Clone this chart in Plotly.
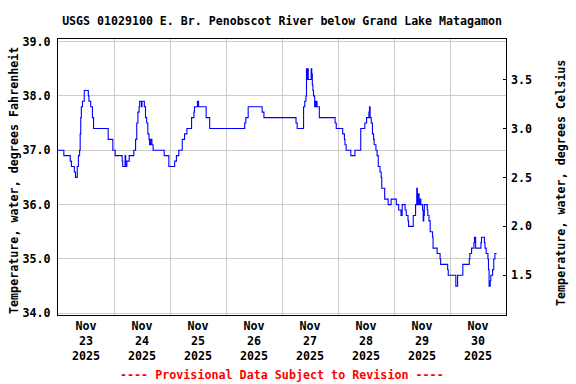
import plotly.graph_objects as go

# Step-series breakpoints (time, temperature in deg F)
times = [
    "2025-11-23 00:00", "2025-11-23 02:30", "2025-11-23 05:15", "2025-11-23 05:45",
    "2025-11-23 07:00", "2025-11-23 07:30", "2025-11-23 08:15", "2025-11-23 08:45",
    "2025-11-23 09:15", "2025-11-23 09:30", "2025-11-23 09:45", "2025-11-23 10:00",
    "2025-11-23 10:30", "2025-11-23 11:15", "2025-11-23 13:00", "2025-11-23 13:15",
    "2025-11-23 14:00", "2025-11-23 14:45", "2025-11-23 15:15", "2025-11-23 21:30",
    "2025-11-23 23:30",
    "2025-11-24 00:30", "2025-11-24 03:30", "2025-11-24 03:45", "2025-11-24 04:45",
    "2025-11-24 05:00", "2025-11-24 05:30", "2025-11-24 06:30", "2025-11-24 08:30",
    "2025-11-24 09:15", "2025-11-24 09:45", "2025-11-24 10:15", "2025-11-24 10:45",
    "2025-11-24 11:00", "2025-11-24 11:45", "2025-11-24 12:00", "2025-11-24 13:00",
    "2025-11-24 13:30", "2025-11-24 14:00", "2025-11-24 14:30", "2025-11-24 15:00",
    "2025-11-24 15:15", "2025-11-24 15:45", "2025-11-24 16:15", "2025-11-24 16:45",
    "2025-11-24 21:30", "2025-11-24 23:30",
    "2025-11-25 02:00", "2025-11-25 02:45", "2025-11-25 03:45", "2025-11-25 05:15",
    "2025-11-25 06:15", "2025-11-25 07:15", "2025-11-25 09:15", "2025-11-25 10:15",
    "2025-11-25 10:30", "2025-11-25 11:45", "2025-11-25 12:15", "2025-11-25 15:30",
    "2025-11-25 17:00",
    "2025-11-26 08:00", "2025-11-26 08:30", "2025-11-26 09:30", "2025-11-26 15:30",
    "2025-11-26 16:15",
    "2025-11-27 06:00", "2025-11-27 06:30", "2025-11-27 09:15", "2025-11-27 09:45",
    "2025-11-27 10:15", "2025-11-27 10:30", "2025-11-27 10:45", "2025-11-27 11:00",
    "2025-11-27 11:15", "2025-11-27 12:30", "2025-11-27 12:45", "2025-11-27 13:00",
    "2025-11-27 13:15", "2025-11-27 13:30", "2025-11-27 14:00", "2025-11-27 14:15",
    "2025-11-27 14:30", "2025-11-27 14:45", "2025-11-27 15:00", "2025-11-27 16:00",
    "2025-11-27 22:45", "2025-11-27 23:15",
    "2025-11-28 02:00", "2025-11-28 02:45", "2025-11-28 03:00", "2025-11-28 03:30",
    "2025-11-28 05:30", "2025-11-28 07:15", "2025-11-28 09:45", "2025-11-28 11:30",
    "2025-11-28 12:15", "2025-11-28 13:15", "2025-11-28 13:30", "2025-11-28 13:45",
    "2025-11-28 14:15", "2025-11-28 14:45", "2025-11-28 15:15", "2025-11-28 15:30",
    "2025-11-28 16:15", "2025-11-28 16:45", "2025-11-28 17:15", "2025-11-28 18:00",
    "2025-11-28 18:30", "2025-11-28 18:45", "2025-11-28 20:00", "2025-11-28 21:30",
    "2025-11-28 22:45",
    "2025-11-29 01:00", "2025-11-29 02:00", "2025-11-29 03:00", "2025-11-29 03:30",
    "2025-11-29 04:45", "2025-11-29 05:15", "2025-11-29 06:00", "2025-11-29 06:15",
    "2025-11-29 08:15", "2025-11-29 09:15", "2025-11-29 09:45", "2025-11-29 10:00",
    "2025-11-29 10:15", "2025-11-29 10:45", "2025-11-29 11:15", "2025-11-29 11:30",
    "2025-11-29 12:15", "2025-11-29 12:30", "2025-11-29 12:45", "2025-11-29 13:00",
    "2025-11-29 14:15", "2025-11-29 14:30", "2025-11-29 15:00", "2025-11-29 15:30",
    "2025-11-29 16:30", "2025-11-29 16:45", "2025-11-29 18:30", "2025-11-29 19:45",
    "2025-11-29 20:00", "2025-11-29 23:00", "2025-11-29 23:15",
    "2025-11-30 02:30", "2025-11-30 03:15", "2025-11-30 05:30", "2025-11-30 08:15",
    "2025-11-30 08:30", "2025-11-30 09:15", "2025-11-30 10:15", "2025-11-30 10:30",
    "2025-11-30 11:00", "2025-11-30 13:15", "2025-11-30 13:30", "2025-11-30 14:45",
    "2025-11-30 15:00", "2025-11-30 15:30", "2025-11-30 16:15", "2025-11-30 16:30",
    "2025-11-30 16:45", "2025-11-30 17:15", "2025-11-30 17:30", "2025-11-30 18:15",
    "2025-11-30 18:45", "2025-11-30 19:15", "2025-11-30 20:00",
]
temps_f = [
    37.0, 36.9, 36.8, 36.7,
    36.6, 36.5, 36.7, 36.9,
    37.0, 37.3, 37.6, 37.8,
    37.9, 38.1, 38.0, 37.9,
    37.8, 37.6, 37.4, 37.2,
    37.0,
    36.9, 36.8, 36.7, 36.9,
    36.7, 36.8, 36.9, 37.0,
    37.2, 37.5, 37.7, 37.8,
    37.9, 37.8, 37.9, 37.8,
    37.6, 37.5, 37.3, 37.2,
    37.1, 37.2, 37.1, 37.0,
    36.9, 36.7,
    36.8, 36.9, 37.0, 37.2,
    37.3, 37.4, 37.6, 37.7,
    37.8, 37.9, 37.8, 37.6,
    37.4,
    37.5, 37.6, 37.8, 37.7,
    37.6,
    37.5, 37.4, 37.8, 37.9,
    38.0, 38.5, 38.3, 38.5,
    38.3, 38.5, 38.4, 38.2,
    38.1, 38.0, 37.8, 37.9,
    37.8, 37.9, 37.8, 37.6,
    37.5, 37.4,
    37.3, 37.2, 37.1, 37.0,
    36.9, 37.0, 37.4, 37.5,
    37.6, 37.7, 37.8, 37.6,
    37.5, 37.3, 37.2, 37.1,
    37.0, 36.9, 36.7, 36.6,
    36.5, 36.3, 36.1, 36.0,
    36.1,
    36.0, 35.9, 35.8, 36.0,
    35.9, 35.8, 35.7, 35.6,
    35.8, 36.0, 36.3, 36.0,
    36.2, 36.0, 36.1, 36.0,
    35.9, 35.7, 35.8, 36.0,
    35.9, 35.8, 35.7, 35.5,
    35.4, 35.2, 35.1, 35.0,
    34.9, 34.8, 34.7,
    34.5, 34.7, 34.9, 35.0,
    35.1, 35.2, 35.3, 35.4,
    35.2, 35.3, 35.4, 35.3,
    35.2, 35.1, 35.0, 34.8,
    34.5, 34.6, 34.7, 34.8,
    35.0, 35.1, 35.1,
]

x_range = ["2025-11-23 00:00", "2025-12-01 00:00"]
f_range = [33.969, 39.046]
f_ticks = [34.0, 35.0, 36.0, 37.0, 38.0, 39.0]
c_ticks = [1.5, 2.0, 2.5, 3.0, 3.5]

title_text = "USGS 01029100 E. Br. Penobscot River below Grand Lake Matagamon"
left_title = "Temperature, water, degrees Fahrenheit"
right_title = "Temperature, water, degrees Celsius"
footer_text = "---- Provisional Data Subject to Revision ----"

FONT = "DejaVu Sans Mono"
FS = 11.7

fig = go.Figure()
fig.add_trace(go.Scatter(
    x=times, y=temps_f, mode="lines", line=dict(color="#0000ff", width=1.1, shape="hv"),
    showlegend=False, hoverinfo="skip",
))
# invisible trace so the Celsius axis is drawn
fig.add_trace(go.Scatter(x=[times[0]], y=[(temps_f[0] - 32) / 1.8], yaxis="y2",
                         mode="markers", marker=dict(opacity=0), showlegend=False,
                         hoverinfo="skip"))

L, R, T, B = 58, 70, 39, 69
PW, PH = 576 - L - R, 384 - T - B

fig.update_layout(
    width=576, height=384,
    margin=dict(l=L, r=R, t=T, b=B, autoexpand=False),
    paper_bgcolor="white", plot_bgcolor="white",
    font=dict(family=FONT, size=FS, color="black", weight="bold"),
    title=dict(text=title_text, x=282 / 576, xanchor="center", y=1 - 21 / 384, yanchor="middle",
               xref="container", yref="container",
               font=dict(family=FONT, size=11.6, weight="bold", color="black")),
    xaxis=dict(
        type="date", range=x_range, dtick=86400000, tick0="2025-11-23",
        ticklabelmode="period", tickformat="%b<br>%d<br>%Y",
        showgrid=True, gridcolor="#cccccc", gridwidth=1,
        showline=True, linecolor="black", linewidth=1, mirror=True,
        ticks="", zeroline=False, automargin=False,
        tickfont=dict(family=FONT, size=FS, weight="bold"),
    ),
    yaxis=dict(
        range=f_range, tickvals=f_ticks, tickformat=".1f",
        showgrid=True, gridcolor="#cccccc", gridwidth=1,
        showline=True, linecolor="black", linewidth=1, mirror=True,
        ticks="", zeroline=False, ticklabelstandoff=4, automargin=False,
        tickfont=dict(family=FONT, size=FS, weight="bold"),
    ),
    yaxis2=dict(
        overlaying="y", side="right",
        range=[(f_range[0] - 32) / 1.8, (f_range[1] - 32) / 1.8],
        tickvals=c_ticks, tickformat=".1f", showgrid=False, zeroline=False,
        ticks="inside", ticklen=3, tickcolor="black", ticklabelstandoff=4,
        automargin=False,
        tickfont=dict(family=FONT, size=FS, weight="bold"),
    ),
    annotations=[
        dict(text=left_title, xref="paper", yref="paper", x=(14 - L) / PW,
             y=(384 - B - 181) / PH, textangle=-90, showarrow=False,
             xanchor="center", yanchor="middle",
             font=dict(family=FONT, size=FS, weight="bold", color="black")),
        dict(text=right_title, xref="paper", yref="paper", x=(561 - L) / PW,
             y=(384 - B - 183) / PH, textangle=-90, showarrow=False,
             xanchor="center", yanchor="middle",
             font=dict(family=FONT, size=FS, weight="bold", color="black")),
        dict(text=footer_text, xref="paper", yref="paper", x=(282 - L) / PW,
             y=(384 - B - 375) / PH, showarrow=False, xanchor="center", yanchor="middle",
             font=dict(family=FONT, size=FS, weight="bold", color="#ff0000")),
    ],
)

fig.write_html(
    "out.html",
    config={"displayModeBar": False, "staticPlot": True},
    post_script="document.body.style.margin='0';document.body.style.overflow='hidden';",
)
